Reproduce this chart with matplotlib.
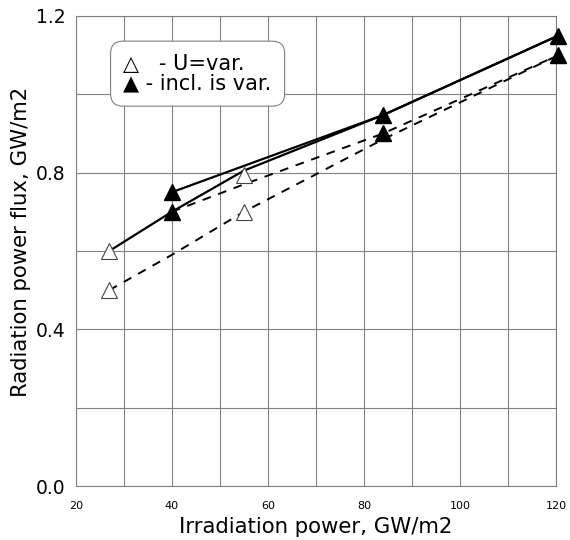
import matplotlib
matplotlib.use("Agg")
import matplotlib.pyplot as plt

plt.rcParams['font.family'] = ['DejaVu Sans']

# Lines (irradiation power, radiation flux)
solid1_x = [27, 40, 55, 84, 120.5]
solid1_y = [0.60, 0.70, 0.805, 0.947, 1.15]
solid2_x = [40, 84, 120.5]
solid2_y = [0.75, 0.947, 1.15]
dash1_x = [27, 40, 55, 84, 120.5]
dash1_y = [0.50, 0.59, 0.70, 0.885, 1.10]
dash2_x = [40, 55, 84, 120.5]
dash2_y = [0.70, 0.77, 0.90, 1.10]

# Markers
open_x = [27, 27, 55, 55]
open_y = [0.60, 0.50, 0.795, 0.70]
filled_x = [40, 40, 84, 84, 120.5, 120.5]
filled_y = [0.75, 0.70, 0.947, 0.90, 1.15, 1.10]

xticks = [20, 40, 60, 80, 100, 120]
yticks = [0.0, 0.4, 0.8, 1.2]
legend_text = "\u25B3   - U=var.\n\u25B2 - incl. is var."

fig = plt.figure(figsize=(5.7, 5.4), dpi=100)
ax = fig.add_axes([0.1328, 0.1, 0.8426, 0.8704])

ax.plot(solid1_x, solid1_y, color='black', lw=1.6, clip_on=False, zorder=3)
ax.plot(solid2_x, solid2_y, color='black', lw=1.6, clip_on=False, zorder=3)
ax.plot(dash1_x, dash1_y, color='black', lw=1.4, ls=(0, (4.5, 4)), clip_on=False, zorder=3)
ax.plot(dash2_x, dash2_y, color='black', lw=1.4, ls=(0, (4.5, 4)), clip_on=False, zorder=3)

ax.plot(open_x, open_y, ls='none', marker='^', ms=11, mfc='white', mec='#444444',
        mew=0.8, clip_on=False, zorder=4)
ax.plot(filled_x, filled_y, ls='none', marker='^', ms=11, mfc='black', mec='black',
        clip_on=False, zorder=4)

ax.set_xlim(20, 120)
ax.set_ylim(0, 1.2)

ax.set_xticks(xticks)
ax.set_xticklabels([str(v) for v in xticks], fontsize=8)
ax.set_xticks(range(30, 120, 20), minor=True)
ax.set_yticks(yticks)
ax.set_yticklabels([f'{v:.1f}' for v in yticks], fontsize=13.5)
ax.set_yticks([0.2, 0.6, 1.0], minor=True)
ax.grid(True, which='both', color='#808080', lw=0.8)
ax.set_axisbelow(True)
ax.tick_params(which='both', length=0)
ax.tick_params(axis='x', pad=11)
ax.tick_params(axis='y', pad=7.5)

for s in ax.spines.values():
    s.set_color('#808080')
    s.set_linewidth(0.8)

ax.set_xlabel('Irradiation power, GW/m2', fontsize=15.3)
ax.set_ylabel('Radiation power flux, GW/m2', fontsize=15.3)
ax.xaxis.set_label_coords(0.5, -0.065)
ax.yaxis.set_label_coords(-0.093, 0.52)

ax.text(0.0995, 0.919, legend_text, transform=ax.transAxes, ha='left', va='top',
        fontsize=15, linespacing=0.95, zorder=5,
        bbox=dict(boxstyle='round,pad=0.62,rounding_size=0.6', fc='white',
                  ec='#808080', lw=0.8))

fig.savefig('out.png', dpi=100)
